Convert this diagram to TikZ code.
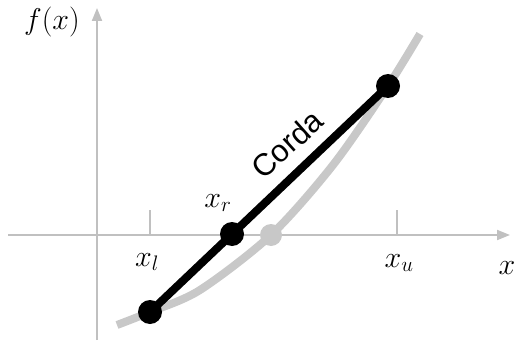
\RequirePackage{fix-cm}
\documentclass[tikz,border=0pt]{standalone}
\usepackage{fontspec}
\setsansfont{Liberation Sans}
\usetikzlibrary{arrows.meta}
\definecolor{axisgray}{RGB}{192,192,192}
\definecolor{curvegray}{RGB}{200,200,200}
\begin{document}
\begin{tikzpicture}[x=1pt,y=1pt,
  axis/.style={draw=axisgray, line width=2pt, -{Triangle[length=13pt,width=10pt]}},
  tickmark/.style={draw=axisgray, line width=2pt},
  curve/.style={draw=curvegray, line width=8pt},
  chord/.style={draw=black, line width=8pt},
  dot/.style={circle, fill=black, inner sep=0pt, minimum size=24pt},
  gdot/.style={circle, fill=curvegray, inner sep=0pt, minimum size=22pt},
  lab/.style={font=\fontsize{30}{32}\selectfont, inner sep=0pt}]
\useasboundingbox (0,0) rectangle (516,346);
% axes
\coordinate (ybot) at (97,6);
\coordinate (ytop) at (97,338);
\coordinate (xleft) at (8,111);
\coordinate (xright) at (510,111);
\draw[axis] (ybot) -- (ytop);
\draw[axis] (xleft) -- (xright);
\coordinate (tl1) at (150,111); \coordinate (tl2) at (150,136);
\coordinate (tu1) at (397,111); \coordinate (tu2) at (397,136);
\draw[tickmark] (tl1) -- (tl2);
\draw[tickmark] (tu1) -- (tu2);
% curve
\draw[curve] plot[smooth, tension=0.5] coordinates {(117,21) (150,34) (200,56) (271,111) (333,181) (388,260) (420,312)};
% points
\coordinate (pl) at (150,34);
\coordinate (pu) at (388,260);
\node[gdot] (g) at (271,111) {};
\draw[chord] (pl) -- (pu);
\node[dot] (xl) at (pl) {};
\node[dot] (xu) at (pu) {};
\node[dot] (xr) at (232,112) {};
% labels
\node[lab] (fx) at (52,324) {$f(x)$};
\node[lab] (lxl) at (147,84) {$x_l$};
\node[lab] (lxr) at (218,143) {$x_r$};
\node[lab] (lxu) at (399,83) {$x_u$};
\node[lab] (lx) at (507,78) {$x$};
\node[font=\sffamily\fontsize{31}{33}\selectfont, rotate=42, inner sep=0pt] (corda) at (287,202) {Corda};
\end{tikzpicture}
\end{document}
